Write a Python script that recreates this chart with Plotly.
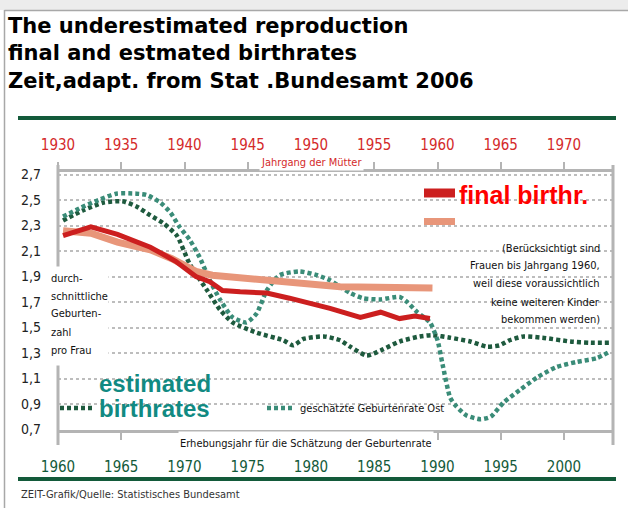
import plotly.graph_objects as go

# ---------------- data ----------------
# completed (final) birth rate by birth cohort of the mothers (top axis)
final_cohort = [1930.4, 1932.6, 1934.7, 1937.3, 1939.3, 1940.9, 1942.0, 1943.0, 1944.4,
                1946.5, 1948.3, 1950.0, 1951.5, 1953.9, 1955.5, 1957.0, 1958.2, 1959.4]
final_rate = [2.22, 2.29, 2.23, 2.13, 2.02, 1.90, 1.86, 1.79, 1.78,
              1.77, 1.73, 1.69, 1.65, 1.58, 1.62, 1.57, 1.59, 1.57]

# second (salmon) cohort series
salmon_cohort = [1930.4, 1932.6, 1934.7, 1937.3, 1939.0, 1940.9, 1942.2, 1944.4, 1947.0,
                 1952.3, 1959.6]
salmon_rate = [2.26, 2.24, 2.17, 2.11, 2.04, 1.94, 1.91, 1.89, 1.86, 1.82, 1.81]

# estimated birth rate (West), by survey year (bottom axis)
west_year = [1960.4, 1962.0, 1963.6, 1965.1, 1966.2, 1967.3, 1968.3, 1969.4, 1970.4, 1971.8,
             1972.8, 1973.8, 1975.7, 1977.8, 1978.6, 1979.4, 1981.0, 1982.3, 1983.1, 1984.4,
             1985.5, 1987.0, 1988.6, 1989.6, 1991.0, 1992.6, 1993.9, 1994.9, 1995.7, 1996.8,
             1998.3, 2000.5, 2002.1, 2003.6]
west_rate = [2.34, 2.42, 2.48, 2.49, 2.45, 2.38, 2.32, 2.22, 2.00, 1.79,
             1.64, 1.54, 1.46, 1.40, 1.36, 1.41, 1.43, 1.40, 1.35, 1.28,
             1.32, 1.39, 1.43, 1.44, 1.42, 1.39, 1.35, 1.36, 1.40, 1.43,
             1.42, 1.39, 1.38, 1.38]

# estimated birth rate East ("geschätzte Geburtenrate Ost")
east_year = [1960.4, 1961.8, 1963.2, 1964.6, 1966.2, 1967.0, 1968.1, 1968.9, 1969.6, 1970.4,
             1971.2, 1972.0, 1972.8, 1973.8, 1974.9, 1975.7, 1976.5, 1977.5, 1979.1, 1980.5,
             1981.5, 1983.1, 1984.1, 1985.5, 1987.0, 1987.6, 1988.4, 1989.4, 1990.0, 1990.4,
             1991.0, 1991.5, 1992.3, 1993.4, 1994.2, 1995.2, 1996.5, 1997.9, 1999.4, 2001.0,
             2002.6, 2003.6]
east_rate = [2.37, 2.44, 2.50, 2.55, 2.55, 2.54, 2.48, 2.40, 2.29, 2.19,
             2.05, 1.87, 1.72, 1.58, 1.54, 1.61, 1.79, 1.91, 1.94, 1.91,
             1.87, 1.77, 1.73, 1.72, 1.74, 1.70, 1.62, 1.54, 1.40, 1.21,
             0.95, 0.88, 0.81, 0.78, 0.80, 0.91, 1.01, 1.11, 1.19, 1.23,
             1.26, 1.31]

survey_ticks = [1960, 1965, 1970, 1975, 1980, 1985, 1990, 1995, 2000]
cohort_ticks = [1930, 1935, 1940, 1945, 1950, 1955, 1960, 1965, 1970]
rate_ticks = [0.7, 0.9, 1.1, 1.3, 1.5, 1.7, 1.9, 2.1, 2.3, 2.5, 2.7]
rate_tick_labels = ["0,7", "0,9", "1,1", "1,3", "1,5", "1,7", "1,9", "2,1", "2,3", "2,5", "2,7"]

# ---------------- layout helpers ----------------
W, H = 628, 508
L, R, T, B = 58, 15, 172, 78
PW, PH = W - L - R, H - T - B


def px(x):
    return (x - L) / PW


def py(y):
    return (H - B - y) / PH


NARROW = "Liberation Sans Narrow, Arial Narrow, DejaVu Sans Condensed, sans-serif"
SANS = "Liberation Sans, Arial, sans-serif"
TITLE_FONT = "DejaVu Sans, Verdana, sans-serif"

RED = "#CC1F1F"
SALMON = "#E8967A"
WEST = "#1E5A3E"
EAST = "#3A8C78"
DKGREEN = "#135A3A"
AXIS = "#B4B4B4"

fig = go.Figure()
fig.add_trace(go.Scatter(x=salmon_cohort, y=salmon_rate, xaxis="x2", mode="lines",
                         line=dict(color=SALMON, width=7), hoverinfo="skip"))
fig.add_trace(go.Scatter(x=final_cohort, y=final_rate, xaxis="x2", mode="lines",
                         line=dict(color=RED, width=5), hoverinfo="skip"))
fig.add_trace(go.Scatter(x=west_year, y=west_rate, mode="lines",
                         line=dict(color=WEST, width=4.5, dash="4px,3px", shape="spline", smoothing=0.6),
                         hoverinfo="skip"))
fig.add_trace(go.Scatter(x=east_year, y=east_rate, mode="lines",
                         line=dict(color=EAST, width=4.5, dash="4px,3px", shape="spline", smoothing=0.6),
                         hoverinfo="skip"))

shapes = []
# grey strip above the frame and the frame of the graphic
shapes.append(dict(type="rect", xref="paper", yref="paper", x0=px(-2), x1=px(632), y0=py(10), y1=py(-2),
                   line=dict(width=0), fillcolor="#ECECEC"))
shapes.append(dict(type="line", xref="paper", yref="paper", x0=px(4.5), x1=px(4.5), y0=py(10), y1=py(510),
                   line=dict(color="#A8A8A8", width=1.5)))
shapes.append(dict(type="line", xref="paper", yref="paper", x0=px(4.5), x1=px(630), y0=py(10.5), y1=py(10.5),
                   line=dict(color="#A8A8A8", width=1.5)))
# dark green rules
for yy in (118, 479):
    shapes.append(dict(type="line", xref="paper", yref="paper", x0=px(18), x1=px(616), y0=py(yy), y1=py(yy),
                       line=dict(color=DKGREEN, width=4)))
# white patches hiding gridlines behind the texts
for (x0, x1, y0, y1) in [(415, 606, 182, 236), (473, 606, 240, 322), (96, 268, 366, 392),
                         (58, 432, 396, 420)]:
    shapes.append(dict(type="rect", xref="paper", yref="paper", x0=px(x0), x1=px(x1), y0=py(y1), y1=py(y0),
                       line=dict(width=0), fillcolor="white", layer="between"))
# vertical axis lines
for xx in (58, 613):
    shapes.append(dict(type="line", xref="paper", yref="paper", x0=px(xx), x1=px(xx), y0=py(165), y1=py(445),
                       line=dict(color=AXIS, width=3)))
# legend samples
shapes.append(dict(type="line", xref="paper", yref="paper", x0=px(424), x1=px(455), y0=py(193), y1=py(193),
                   line=dict(color=RED, width=9)))
shapes.append(dict(type="line", xref="paper", yref="paper", x0=px(424), x1=px(455), y0=py(221.5), y1=py(221.5),
                   line=dict(color=SALMON, width=7)))
shapes.append(dict(type="line", xref="paper", yref="paper", x0=px(60), x1=px(92), y0=py(408), y1=py(408),
                   line=dict(color=WEST, width=4.5, dash="4px,3px")))
shapes.append(dict(type="line", xref="paper", yref="paper", x0=px(267), x1=px(294), y0=py(408), y1=py(408),
                   line=dict(color=EAST, width=4.5, dash="4px,3px")))

ann = []


def text(x, y, s, size, color="#111", family=NARROW, xanchor="left", bold=False, **kw):
    ann.append(dict(xref="paper", yref="paper", x=px(x), y=py(y), text=("<b>%s</b>" % s) if bold else s,
                    showarrow=False, xanchor=xanchor, yanchor="middle",
                    font=dict(size=size, color=color, family=family), **kw))


# title (one block, three lines)
text(6, 53, "The underestimated reproduction<br>final and estmated birthrates<br>"
            "Zeit,adapt. from Stat .Bundesamt 2006", 21, "#000", TITLE_FONT, align="left", bold=True)

# left block (covers left axis line)
ann.append(dict(xref="paper", yref="paper", x=px(47), y=py(266), xanchor="left", yanchor="top",
                text=" ", showarrow=False, width=60, height=98, bgcolor="white", borderpad=0))
for yy, s in zip([278, 296, 313, 332, 350], ["durch-", "schnittliche", "Geburten-", "zahl", "pro Frau"]):
    text(49, yy, s, 11)

# right note
for yy, s in zip([248, 265, 283, 302, 319],
                 ["(Berücksichtigt sind", "Frauen bis Jahrgang 1960,", "weil diese voraussichtlich",
                  "keine weiteren Kinder", "bekommen werden)"]):
    text(602, yy, s, 11, xanchor="right")

# legend texts
text(457, 195, "final birthr.", 25, "#FF0000", SANS, bold=True)
text(97, 383, "estimated", 24, "#118A82", SANS, bold=True)
text(97, 408, "birthrates", 24, "#118A82", SANS, bold=True)
text(298, 408, "geschätzte Geburtenrate Ost", 11)

# axis titles
text(306, 443, "Erhebungsjahr für die Schätzung der Geburtenrate", 11, xanchor="center",
     bgcolor="white", height=20)
text(311, 162, "Jahrgang der Mütter", 11, "#D42A2A", xanchor="center", bgcolor="white", height=14)

# footer
text(19, 494, "ZEIT-Grafik/Quelle: Statistisches Bundesamt", 11, "#333")

fig.update_layout(
    width=W, height=H, autosize=False,
    margin=dict(l=L, r=R, t=T, b=B, pad=0),
    paper_bgcolor="white", plot_bgcolor="white",
    showlegend=False,
    shapes=shapes, annotations=ann,
    xaxis=dict(range=[1960, 2003.87], tickvals=survey_ticks, ticks="outside", ticklen=7, tickwidth=2,
               tickcolor=AXIS, showline=True, linecolor=AXIS, linewidth=3, showgrid=False, zeroline=False,
               tickfont=dict(family=NARROW, size=15, color=DKGREEN), ticklabelstandoff=14),
    xaxis2=dict(range=[1930, 1973.87], overlaying="x", side="top", tickvals=cohort_ticks, ticks="outside",
                ticklen=7, tickwidth=2, tickcolor=AXIS, showline=True, linecolor=AXIS, linewidth=3,
                showgrid=False, zeroline=False,
                tickfont=dict(family=NARROW, size=15, color="#D42A2A"), ticklabelstandoff=6),
    yaxis=dict(range=[0.696, 2.72], tickvals=rate_ticks, ticktext=rate_tick_labels, ticks="",
               showline=False, zeroline=False, showgrid=True, gridcolor="#BDBDBD", gridwidth=1.5,
               griddash="3px,3px", tickfont=dict(family=NARROW, size=14, color="#222"),
               ticklabelstandoff=16),
)

fig.write_html("out.html", config={"displayModeBar": False},
               post_script="document.body.style.margin='0';")
